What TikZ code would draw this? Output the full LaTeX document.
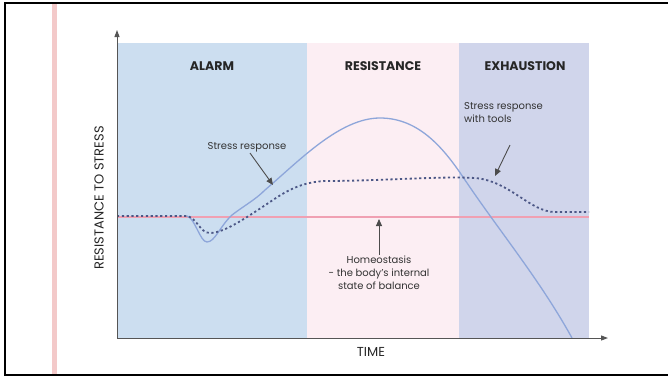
\documentclass[tikz,border=0pt]{standalone}
\usepackage{fontspec}
\setmainfont{Poppins}
\usetikzlibrary{positioning, arrows.meta}
\definecolor{alarmblue}{HTML}{CCDEF0}
\definecolor{resistpink}{HTML}{FCEEF3}
\definecolor{exhaustblue}{HTML}{D0D5EB}
\definecolor{curveblue}{HTML}{8EA6DA}
\definecolor{dotblue}{HTML}{4C5786}
\definecolor{homeopink}{HTML}{F0A0B2}
\definecolor{barpink}{HTML}{F3C9C9}
\definecolor{axisgray}{HTML}{555555}

\begin{document}
\begin{tikzpicture}[
            x=1pt, y=-1pt,
            phase/.style={font=\bfseries\fontsize{12.5}{14}\selectfont, text=black!85},
            note/.style={font=\fontsize{10}{13}\selectfont, text=black!80, align=center, inner sep=1pt},
            axislabel/.style={font=\fontsize{13}{15}\selectfont, text=black!85},
            axis/.style={draw=axisgray, line width=1pt, -{Triangle[length=7pt,width=5pt]}},
            pointer/.style={draw=black!70, line width=0.9pt, -{Triangle[length=7pt,width=6pt]}},
            response/.style={draw=curveblue, line width=1.3pt},
            tools/.style={draw=dotblue, line width=1.8pt, dash pattern=on 2.2pt off 2.6pt}
        ]
        \useasboundingbox (0,0) rectangle (668,378);
        % Frame and side bar
        \fill[barpink] (52,4) rectangle (57,374);
        \draw[black, line width=2pt] (5,3) rectangle (672,375);

        % Phase bands
        \fill[alarmblue] (117,43) rectangle (307,338);
        \fill[resistpink] (307,43) rectangle (459,338);
        \fill[exhaustblue] (459,43) rectangle (589,338);

        \node[phase] (alarm) at (212,66) {ALARM};
        \node[phase] (resistance) at (383,66) {RESISTANCE};
        \node[phase] (exhaustion) at (525,66) {EXHAUSTION};

        % Homeostasis level
        \coordinate (hstart) at (117,217);
        \coordinate (hend) at (589,217);
        \draw[homeopink, line width=1.2pt] (hstart) -- (hend);

        % Curves
        \draw[response] (187,216) .. controls (195,218) and (200,242) .. (207,242)
            .. controls (215,242) and (220,226) .. (232,215)
            .. controls (245,205) and (255,200) .. (265,190)
            .. controls (300,160) and (340,118) .. (380,118)
            .. controls (420,118) and (445,150) .. (465,180)
            .. controls (500,232) and (540,280) .. (572,338);
        \draw[tools] (117,216) -- (187,216) .. controls (197,218) and (200,233) .. (210,233)
            .. controls (225,233) and (250,215) .. (270,202)
            .. controls (290,188) and (305,182) .. (325,181)
            .. controls (380,181) and (440,176) .. (475,178)
            .. controls (510,181) and (530,212) .. (555,212) -- (589,212);

        % Axes
        \coordinate (origin) at (117,338);
        \coordinate (ytip) at (117,30);
        \coordinate (xtip) at (608,338);
        \draw[axis] (origin) -- (ytip);
        \draw[axis] (origin) -- (xtip);
        \node[axislabel] (time) at (371,352) {TIME};
        \node[axislabel, rotate=90] (ylabel) at (99,198) {RESISTANCE TO STRESS};

        % Labels and pointers
        \node[note] (stress) at (247,147) {Stress response};
        \coordinate (stresstip) at (273,185);
        \draw[pointer] ([xshift=3pt]stress.south) -- (stresstip);

        \node[note, align=left, anchor=north west] (withtools) at (463,101) {Stress response\\with tools};
        \coordinate (toolstip) at (495,176);
        \coordinate (toolsfoot) at (510,145);
        \draw[pointer] (toolsfoot) -- (toolstip);

        \node[note, anchor=north] (homeo) at (379,255) {Homeostasis\\- the body's internal\\state of balance};
        \coordinate (homeotip) at (379,219);
        \draw[pointer] (homeo.north) -- (homeotip);
    \end{tikzpicture}
\end{document}
